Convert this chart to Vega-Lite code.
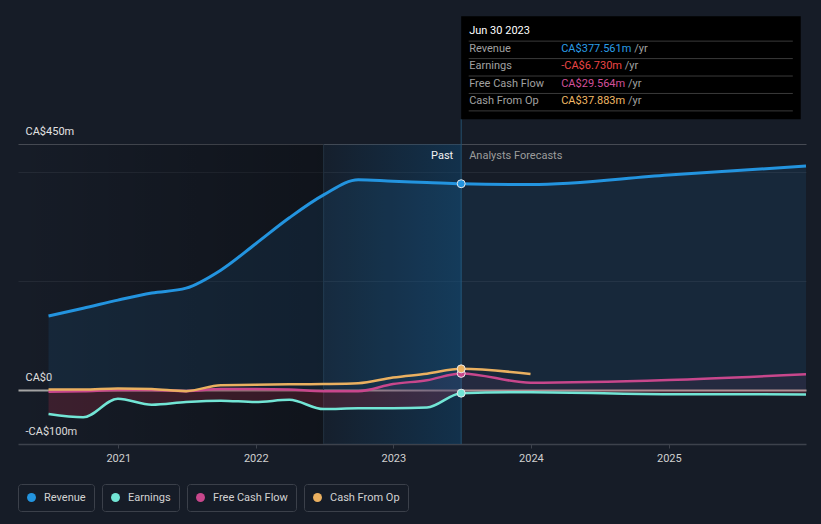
{
  "$schema": "https://vega.github.io/schema/vega-lite/v6.json",
  "width": 788,
  "height": 436,
  "padding": {"left": 17, "top": 8, "right": 16, "bottom": 13},
  "autosize": {"type": "pad"},
  "background": "#161c27",
  "config": {
    "view": {"stroke": null},
    "font": "Roboto",
    "legend": {
      "orient": "bottom",
      "direction": "horizontal",
      "title": null,
      "strokeColor": "#3b404a",
      "padding": 8,
      "cornerRadius": 3,
      "symbolType": "circle",
      "symbolSize": 80,
      "symbolStrokeWidth": 0,
      "labelColor": "#d2d2d2",
      "labelFontSize": 11,
      "labelFont": "Roboto",
      "labelOffset": 7,
      "offset": 21
    }
  },
  "datasets": {
    "fin": [
      {"date": "2020-06-30", "revenue": 135, "earnings": -45, "fcf": -4, "cfo": 0},
      {"date": "2020-09-30", "revenue": 149, "earnings": -51, "fcf": -3, "cfo": 0},
      {"date": "2020-12-31", "revenue": 164, "earnings": -17, "fcf": -1, "cfo": 2},
      {"date": "2021-03-31", "revenue": 177, "earnings": -28, "fcf": -1, "cfo": 1},
      {"date": "2021-06-30", "revenue": 186, "earnings": -23, "fcf": -3, "cfo": -3},
      {"date": "2021-09-30", "revenue": 219, "earnings": -20.5, "fcf": 1, "cfo": 8},
      {"date": "2021-12-31", "revenue": 267, "earnings": -23, "fcf": 1, "cfo": 8.5},
      {"date": "2022-03-31", "revenue": 315, "earnings": -19, "fcf": 0, "cfo": 9.5},
      {"date": "2022-06-30", "revenue": 357, "earnings": -36, "fcf": -3, "cfo": 10},
      {"date": "2022-09-30", "revenue": 385, "earnings": -34.5, "fcf": -3, "cfo": 11.5},
      {"date": "2022-12-31", "revenue": 382, "earnings": -34.5, "fcf": 10, "cfo": 22},
      {"date": "2023-03-31", "revenue": 380, "earnings": -33, "fcf": 17, "cfo": 29},
      {"date": "2023-06-30", "revenue": 377.561, "earnings": -6.73, "fcf": 29.564, "cfo": 37.883},
      {"date": "2023-12-31", "revenue": 376, "earnings": -5, "fcf": 12.5, "cfo": 28.4},
      {"date": "2024-12-31", "revenue": 393.5, "earnings": -8.5, "fcf": 17.5, "cfo": null},
      {"date": "2025-12-31", "revenue": 410, "earnings": -9, "fcf": 28, "cfo": null}
    ],
    "latest": [
      {"series": "Revenue", "date": "2023-06-30", "value": 377.561},
      {"series": "Earnings", "date": "2023-06-30", "value": -6.73},
      {"series": "Free Cash Flow", "date": "2023-06-30", "value": 29.564},
      {"series": "Cash From Op", "date": "2023-06-30", "value": 37.883}
    ],
    "tip": [
      {"order": 1, "name": "Jun 30 2023", "display": ""},
      {"order": 2, "name": "Revenue", "display": "CA$377.561m"},
      {"order": 3, "name": "Earnings", "display": "-CA$6.730m"},
      {"order": 4, "name": "Free Cash Flow", "display": "CA$29.564m"},
      {"order": 5, "name": "Cash From Op", "display": "CA$37.883m"}
    ]
  },
  "layer": [
    {
      "data": {"values": [{"zone": "past"}]},
      "mark": {"type": "rect", "color": {"gradient": "linear", "x1": 0, "x2": 1, "y1": 0, "y2": 0, "stops": [{"offset": 0, "color": "rgba(0,0,0,0)"}, {"offset": 1, "color": "rgba(0,0,0,0.3)"}]}},
      "encoding": {
        "x": {
          "datum": {"year": 2020, "month": 4, "date": 10, "utc": true},
          "type": "temporal",
          "scale": {"type": "utc", "nice": false, "domain": [{"year": 2020, "month": 4, "date": 10, "utc": true}, {"year": 2025, "month": 12, "date": 31, "utc": true}]},
          "axis": {
            "values": [
              {"year": 2021, "month": 1, "date": 1, "utc": true},
              {"year": 2022, "month": 1, "date": 1, "utc": true},
              {"year": 2023, "month": 1, "date": 1, "utc": true},
              {"year": 2024, "month": 1, "date": 1, "utc": true},
              {"year": 2025, "month": 1, "date": 1, "utc": true}
            ],
            "format": "%Y",
            "title": null,
            "grid": false,
            "domainColor": "#3d424c",
            "domainWidth": 1.5,
            "tickColor": "#3d424c",
            "tickSize": 4,
            "labelColor": "#d0d0d0",
            "labelFontSize": 11,
            "labelFont": "Roboto",
            "labelPadding": 4,
            "labelFlush": false
          }
        },
        "x2": {"datum": {"year": 2022, "month": 6, "date": 30, "utc": true}},
        "y": {
          "datum": 450,
          "type": "quantitative",
          "scale": {"domain": [-100, 700], "nice": false, "zero": false},
          "axis": {
            "values": [-100, 0, 200, 400, 450],
            "title": null,
            "domain": false,
            "ticks": false,
            "tickSize": 0,
            "labelAlign": "left",
            "labelBaseline": "middle",
            "labelPadding": -7,
            "labelOffset": -12.5,
            "labelOverlap": false,
            "labelColor": "#e2e2e2",
            "labelFontSize": 11,
            "labelFont": "Roboto",
            "labelExpr": "datum.value === 200 || datum.value === 400 ? '' : (datum.value === 0 ? 'CA$0' : (datum.value < 0 ? '-CA$' + abs(datum.value) + 'm' : 'CA$' + datum.value + 'm'))",
            "grid": true,
            "gridColor": {"condition": [{"test": "datum.value === 0", "value": "#a5a5a5"}, {"test": "datum.value === 450", "value": "#464a53"}, {"test": "datum.value === -100", "value": "rgba(0,0,0,0)"}], "value": "#242a35"},
            "gridWidth": {"condition": {"test": "datum.value === 0", "value": 2}, "value": 1}
          }
        },
        "y2": {"datum": -100}
      }
    },
    {
      "data": {"values": [{"zone": "lastyear"}]},
      "mark": {"type": "rect", "color": {"gradient": "linear", "x1": 0, "x2": 1, "y1": 0, "y2": 0, "stops": [{"offset": 0, "color": "rgba(14,70,112,0.08)"}, {"offset": 1, "color": "rgba(14,70,112,0.5)"}]}},
      "encoding": {
        "x": {"datum": {"year": 2022, "month": 6, "date": 30, "utc": true}, "type": "temporal"},
        "x2": {"datum": {"year": 2023, "month": 6, "date": 30, "utc": true}},
        "y": {"datum": 450, "type": "quantitative", "scale": {"domain": [-100, 700], "nice": false, "zero": false}, "axis": null},
        "y2": {"datum": -100}
      }
    },
    {
      "data": {"values": [{"zone": "start"}]},
      "mark": {"type": "rule", "color": "#22303f", "strokeWidth": 1},
      "encoding": {
        "x": {"datum": {"year": 2022, "month": 6, "date": 30, "utc": true}, "type": "temporal"},
        "y": {"datum": 450, "type": "quantitative", "scale": {"domain": [-100, 700], "nice": false, "zero": false}, "axis": null},
        "y2": {"datum": -100}
      }
    },
    {
      "data": {"values": [{"zone": "now"}]},
      "mark": {"type": "rule", "color": "#24506f", "strokeWidth": 1},
      "encoding": {
        "x": {"datum": {"year": 2023, "month": 6, "date": 30, "utc": true}, "type": "temporal"},
        "y": {"datum": 496, "type": "quantitative", "scale": {"domain": [-100, 700], "nice": false, "zero": false}, "axis": null},
        "y2": {"datum": -100}
      }
    },
    {
      "data": {"name": "fin"},
      "mark": {"type": "area", "color": "#2394df", "opacity": 0.1, "interpolate": "monotone"},
      "encoding": {
        "x": {"field": "date", "type": "temporal"},
        "y": {"field": "revenue", "type": "quantitative", "scale": {"domain": [-100, 700], "nice": false, "zero": false}, "axis": null},
        "y2": {"datum": 0}
      }
    },
    {
      "data": {"name": "fin"},
      "mark": {"type": "area", "color": "#d8304f", "opacity": 0.2, "interpolate": "monotone"},
      "encoding": {
        "x": {"field": "date", "type": "temporal"},
        "y": {"field": "earnings", "type": "quantitative", "scale": {"domain": [-100, 700], "nice": false, "zero": false}, "axis": null},
        "y2": {"datum": 0}
      }
    },
    {
      "data": {"name": "fin"},
      "mark": {"type": "area", "color": "#c94b8f", "opacity": 0.08, "interpolate": "monotone"},
      "encoding": {
        "x": {"field": "date", "type": "temporal"},
        "y": {"field": "fcf", "type": "quantitative", "scale": {"domain": [-100, 700], "nice": false, "zero": false}, "axis": null},
        "y2": {"datum": 0}
      }
    },
    {
      "data": {"name": "fin"},
      "mark": {"type": "line", "color": "#2394df", "strokeWidth": 3, "interpolate": "monotone"},
      "encoding": {
        "x": {"field": "date", "type": "temporal"},
        "y": {"field": "revenue", "type": "quantitative", "scale": {"domain": [-100, 700], "nice": false, "zero": false}, "axis": null}
      }
    },
    {
      "data": {"name": "fin"},
      "mark": {"type": "line", "color": "#c8478c", "strokeWidth": 2.5, "interpolate": "monotone"},
      "encoding": {
        "x": {"field": "date", "type": "temporal"},
        "y": {"field": "fcf", "type": "quantitative", "scale": {"domain": [-100, 700], "nice": false, "zero": false}, "axis": null}
      }
    },
    {
      "data": {"name": "fin"},
      "mark": {"type": "line", "color": "#eab060", "strokeWidth": 2.5, "interpolate": "monotone"},
      "encoding": {
        "x": {"field": "date", "type": "temporal"},
        "y": {"field": "cfo", "type": "quantitative", "scale": {"domain": [-100, 700], "nice": false, "zero": false}, "axis": null}
      }
    },
    {
      "data": {"name": "fin"},
      "mark": {"type": "line", "color": "#72e5d5", "strokeWidth": 2.5, "interpolate": "monotone"},
      "encoding": {
        "x": {"field": "date", "type": "temporal"},
        "y": {"field": "earnings", "type": "quantitative", "scale": {"domain": [-100, 700], "nice": false, "zero": false}, "axis": null}
      }
    },
    {
      "data": {"name": "latest"},
      "transform": [{"filter": "datum.series === 'Revenue'"}],
      "mark": {"type": "point", "filled": true, "opacity": 1, "size": 64, "stroke": "#e8e8e8", "strokeWidth": 1},
      "encoding": {
        "x": {"field": "date", "type": "temporal"},
        "y": {"field": "value", "type": "quantitative", "scale": {"domain": [-100, 700], "nice": false, "zero": false}, "axis": null},
        "color": {"field": "series", "type": "nominal", "scale": {"domain": ["Revenue"], "range": ["#2394df"]}, "legend": {}}
      }
    },
    {
      "data": {"name": "latest"},
      "transform": [{"filter": "datum.series === 'Earnings'"}],
      "mark": {"type": "point", "filled": true, "opacity": 1, "size": 64, "stroke": "#e8e8e8", "strokeWidth": 1},
      "encoding": {
        "x": {"field": "date", "type": "temporal"},
        "y": {"field": "value", "type": "quantitative", "scale": {"domain": [-100, 700], "nice": false, "zero": false}, "axis": null},
        "color": {"field": "series", "type": "nominal", "scale": {"domain": ["Earnings"], "range": ["#72e5d5"]}, "legend": {}}
      }
    },
    {
      "data": {"name": "latest"},
      "transform": [{"filter": "datum.series === 'Free Cash Flow'"}],
      "mark": {"type": "point", "filled": true, "opacity": 1, "size": 64, "stroke": "#e8e8e8", "strokeWidth": 1},
      "encoding": {
        "x": {"field": "date", "type": "temporal"},
        "y": {"field": "value", "type": "quantitative", "scale": {"domain": [-100, 700], "nice": false, "zero": false}, "axis": null},
        "color": {"field": "series", "type": "nominal", "scale": {"domain": ["Free Cash Flow"], "range": ["#c8478c"]}, "legend": {}}
      }
    },
    {
      "data": {"name": "latest"},
      "transform": [{"filter": "datum.series === 'Cash From Op'"}],
      "mark": {"type": "point", "filled": true, "opacity": 1, "size": 64, "stroke": "#e8e8e8", "strokeWidth": 1},
      "encoding": {
        "x": {"field": "date", "type": "temporal"},
        "y": {"field": "value", "type": "quantitative", "scale": {"domain": [-100, 700], "nice": false, "zero": false}, "axis": null},
        "color": {"field": "series", "type": "nominal", "scale": {"domain": ["Cash From Op"], "range": ["#eab060"]}, "legend": {}}
      }
    },
    {
      "data": {"values": [{"label": "Past"}]},
      "mark": {"type": "text", "align": "right", "baseline": "middle", "dx": -8, "fontSize": 11, "font": "Roboto", "color": "#f2f2f2"},
      "encoding": {
        "x": {"datum": {"year": 2023, "month": 6, "date": 30, "utc": true}, "type": "temporal"},
        "y": {"datum": 428, "type": "quantitative", "scale": {"domain": [-100, 700], "nice": false, "zero": false}, "axis": null},
        "text": {"field": "label"}
      }
    },
    {
      "data": {"values": [{"label": "Analysts Forecasts"}]},
      "mark": {"type": "text", "align": "left", "baseline": "middle", "dx": 8, "fontSize": 11, "font": "Roboto", "color": "#9c9c9c"},
      "encoding": {
        "x": {"datum": {"year": 2023, "month": 6, "date": 30, "utc": true}, "type": "temporal"},
        "y": {"datum": 428, "type": "quantitative", "scale": {"domain": [-100, 700], "nice": false, "zero": false}, "axis": null},
        "text": {"field": "label"}
      }
    },
    {
      "data": {"values": [{"box": "tooltip"}]},
      "mark": {"type": "rect", "color": "#000000"},
      "encoding": {
        "x": {"datum": {"year": 2023, "month": 6, "date": 30, "utc": true}, "type": "temporal"},
        "x2": {"datum": {"year": 2025, "month": 12, "date": 17, "utc": true}},
        "y": {"datum": 685, "type": "quantitative", "scale": {"domain": [-100, 700], "nice": false, "zero": false}, "axis": null},
        "y2": {"datum": 496}
      }
    },
    {
      "data": {"name": "tip"},
      "mark": {"type": "rule", "color": "#3a3a3a", "strokeWidth": 1, "yOffset": 15.7},
      "encoding": {
        "x": {"datum": {"year": 2023, "month": 7, "date": 20, "utc": true}, "type": "temporal"},
        "x2": {"datum": {"year": 2025, "month": 11, "date": 26, "utc": true}},
        "y": {"field": "order", "type": "ordinal", "scale": {"type": "point", "padding": 0, "domain": [0,1,2,3,4,5,6,7,8,9,10,11,12,13,14,15,16,17,18,19,20,21,22,23,24,25]}, "axis": null}
      }
    },
    {
      "data": {"name": "tip"},
      "mark": {"type": "text", "align": "left", "baseline": "middle", "dx": 8, "yOffset": 5.8, "fontSize": 11, "font": "Roboto"},
      "encoding": {
        "x": {"datum": {"year": 2023, "month": 6, "date": 30, "utc": true}, "type": "temporal"},
        "y": {"field": "order", "type": "ordinal", "scale": {"type": "point", "padding": 0, "domain": [0,1,2,3,4,5,6,7,8,9,10,11,12,13,14,15,16,17,18,19,20,21,22,23,24,25]}, "axis": null},
        "text": {"field": "name"},
        "color": {"condition": {"test": "datum.order === 1", "value": "#ffffff"}, "value": "#a0a0a0"}
      }
    },
    {
      "data": {"name": "tip"},
      "transform": [{"filter": "datum.order > 1"}],
      "mark": {"type": "text", "align": "left", "baseline": "middle", "text": "/yr", "dx": {"expr": "100 + 6.18*(length(datum.display) - length(replace(datum.display, regexp('[0-9]', 'g'), ''))) + 33.03 + (indexof(datum.display, '-') === 0 ? 2.97 : 0) + 2.9"}, "yOffset": 5.8, "fontSize": 11, "font": "Roboto", "color": "#a0a0a0"},
      "encoding": {
        "x": {"datum": {"year": 2023, "month": 6, "date": 30, "utc": true}, "type": "temporal"},
        "y": {"field": "order", "type": "ordinal", "scale": {"type": "point", "padding": 0, "domain": [0,1,2,3,4,5,6,7,8,9,10,11,12,13,14,15,16,17,18,19,20,21,22,23,24,25]}, "axis": null}
      }
    },
    {
      "data": {"name": "tip"},
      "transform": [{"filter": "datum.order > 1"}],
      "mark": {"type": "text", "align": "left", "baseline": "middle", "dx": 100, "yOffset": 5.8, "fontSize": 11, "font": "Roboto"},
      "encoding": {
        "x": {"datum": {"year": 2023, "month": 6, "date": 30, "utc": true}, "type": "temporal"},
        "y": {"field": "order", "type": "ordinal", "scale": {"type": "point", "padding": 0, "domain": [0,1,2,3,4,5,6,7,8,9,10,11,12,13,14,15,16,17,18,19,20,21,22,23,24,25]}, "axis": null},
        "text": {"field": "display"},
        "color": {"field": "name", "type": "nominal", "scale": {"domain": ["Revenue", "Earnings", "Free Cash Flow", "Cash From Op"], "range": ["#2a9de8", "#ec4545", "#d2509a", "#f0b866"]}, "legend": null}
      }
    }
  ],
  "resolve": {"scale": {"y": "independent", "color": "independent"}}
}
